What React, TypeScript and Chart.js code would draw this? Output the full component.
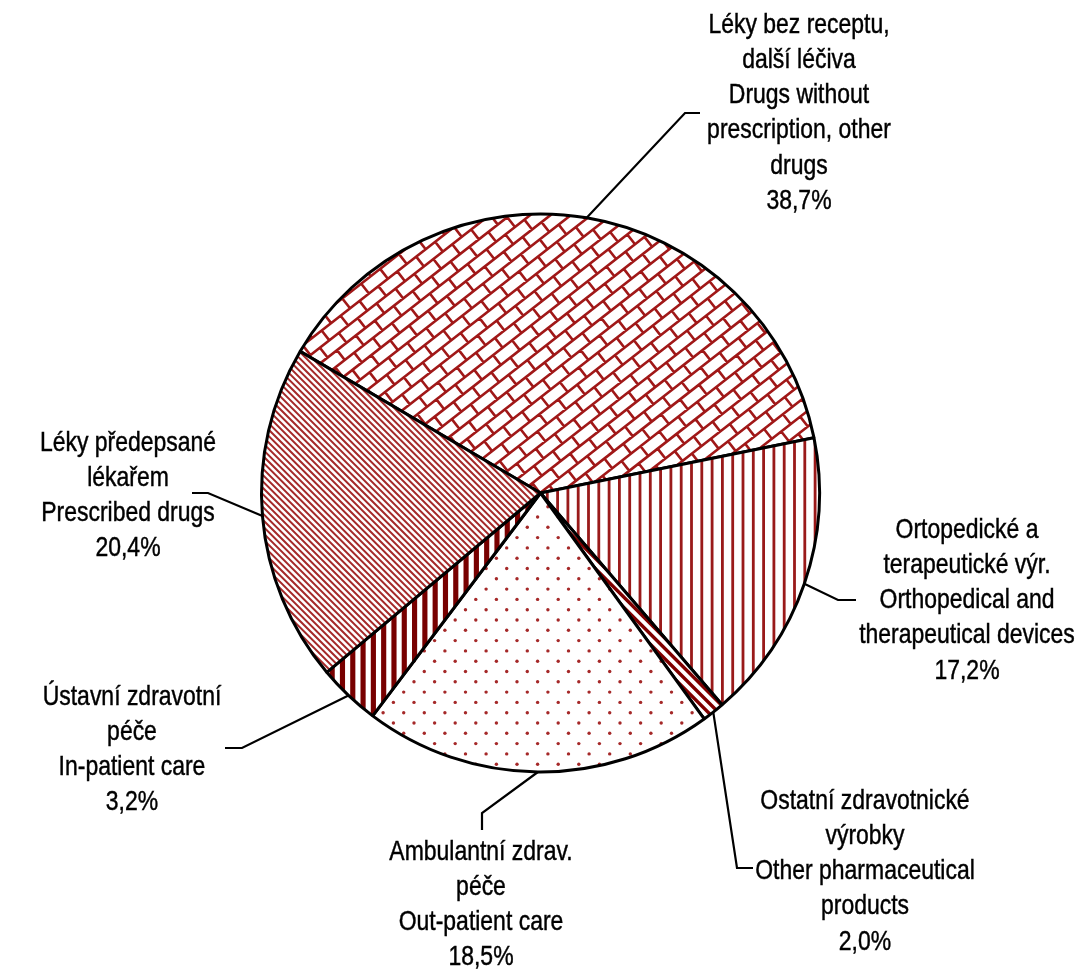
import React, { useEffect, useRef } from "react";
import { Chart, registerables } from "chart.js";

Chart.register(...registerables);

// ---------- data ----------
const categories: string[][] = [
  ["Léky bez receptu,", "další léčiva", "Drugs without", "prescription, other", "drugs"],
  ["Ortopedické a", "terapeutické výr.", "Orthopedical and", "therapeutical devices"],
  ["Ostatní zdravotnické", "výrobky", "Other pharmaceutical", "products"],
  ["Ambulantní zdrav.", "péče", "Out-patient care"],
  ["Ústavní zdravotní", "péče", "In-patient care"],
  ["Léky předepsané", "lékařem", "Prescribed drugs"],
];
// percentages printed in the labels
const labelPercents = ["38,7%", "17,2%", "2,0%", "18,5%", "3,2%", "20,4%"];
// slice sizes as drawn in the picture (% of the circle)
const sliceShares = [38.35, 16.9, 1.3, 20.25, 3.62, 19.58];
const startAngleDeg = -59.5;

// ---------- layout (offsets from pie centre, px) ----------
const labelLayout = [
  { elbow: [144.5, -380], end: [159.5, -380], text: [258.5, -468] },
  { elbow: [297.5, 107], end: [315.5, 107], text: [426.5, 37] },
  { elbow: [196.5, 375], end: [212.5, 375], text: [324.5, 308] },
  { elbow: [-58.5, 320], end: [-58.5, 337], text: [-59.5, 359] },
  { elbow: [-298.5, 255], end: [-315.5, 255], text: [-408.5, 204] },
  { elbow: [-332.5, 0], end: [-348.5, 0], text: [-412.5, -50] },
];
const LINE_H = 35.2;
const FONT_PX = 28;

// ---------- patterns ----------
const W = 1079;
const H = 973;
const PX = 20.6 / 8; // one pattern "bit"

function makePattern(draw: (c: CanvasRenderingContext2D) => void): CanvasPattern {
  const cv = document.createElement("canvas");
  cv.width = W;
  cv.height = H;
  const c = cv.getContext("2d")!;
  c.fillStyle = "#ffffff";
  c.fillRect(0, 0, W, H);
  draw(c);
  return c.createPattern(cv, "no-repeat")!;
}

function brick(c: CanvasRenderingContext2D) {
  const theta = (38 * Math.PI) / 180;
  const d = 12.5; // row spacing
  const L = 24; // brick length
  c.save();
  c.translate(540, 493);
  c.rotate(-theta);
  c.strokeStyle = "#a01818";
  c.lineWidth = 2.6;
  c.beginPath();
  for (let k = -70; k <= 70; k++) {
    const y = k * d;
    c.moveTo(-900, y);
    c.lineTo(900, y);
    const off = (((k % 2) + 2) % 2) * (L / 2);
    for (let x = -900 + off; x <= 900; x += L) {
      c.moveTo(x, y);
      c.lineTo(x, y + d);
    }
  }
  c.stroke();
  c.restore();
}

function backslash(period: number, width: number, color: string) {
  return (c: CanvasRenderingContext2D) => {
    c.strokeStyle = color;
    c.lineWidth = width;
    c.beginPath();
    for (let s = -H - 20; s <= W + 20; s += period) {
      c.moveTo(s, 0);
      c.lineTo(s + H, H);
    }
    c.stroke();
  };
}

function vertical(period: number, width: number, color: string) {
  return (c: CanvasRenderingContext2D) => {
    c.fillStyle = color;
    for (let x = 0; x < W; x += period) {
      c.fillRect(x, 0, width, H);
    }
  };
}

function dots(c: CanvasRenderingContext2D) {
  c.fillStyle = "#a52828";
  const P = 8 * PX;
  for (let x = 0; x < W + P; x += P) {
    for (let y = 0; y < H + P; y += P) {
      c.beginPath();
      c.arc(x + 2, y + 2, 1.7, 0, Math.PI * 2);
      c.fill();
      c.beginPath();
      c.arc(x + 2 + P / 2, y + 2 + P / 2, 1.7, 0, Math.PI * 2);
      c.fill();
    }
  }
}

export default function App() {
  const ref = useRef<HTMLCanvasElement | null>(null);

  useEffect(() => {
    const canvas = ref.current;
    if (!canvas) return;

    const fills = [
      makePattern(brick),
      makePattern(vertical(4 * PX, 2.8, "#9a1a1a")),
      makePattern(backslash(4 * PX, 3.4, "#800000")),
      makePattern(dots),
      makePattern(vertical(4 * PX, 2 * PX, "#780000")),
      makePattern(backslash(6.4, 2.0, "#a52a2a")),
    ];

    // choose narrow font or a squeezed fallback
    const mctx = canvas.getContext("2d")!;
    mctx.font = `${FONT_PX}px "Liberation Sans Narrow", monospace`;
    const w1 = mctx.measureText("therapeutical devices").width;
    mctx.font = `${FONT_PX}px monospace`;
    const w2 = mctx.measureText("therapeutical devices").width;
    const hasNarrow = Math.abs(w1 - w2) > 0.5;

    const labelPlugin = {
      id: "leaderLabels",
      afterDraw(chart: any) {
        const ctx: CanvasRenderingContext2D = chart.ctx;
        const arcs = chart.getDatasetMeta(0).data;
        ctx.save();
        arcs.forEach((arc: any, i: number) => {
          const p = arc.getProps(["x", "y", "startAngle", "endAngle", "outerRadius"], true);
          const mid = (p.startAngle + p.endAngle) / 2;
          const ax = p.x + Math.cos(mid) * p.outerRadius;
          const ay = p.y + Math.sin(mid) * p.outerRadius;
          const L = labelLayout[i];
          ctx.beginPath();
          ctx.moveTo(ax, ay);
          ctx.lineTo(p.x + L.elbow[0], p.y + L.elbow[1]);
          ctx.lineTo(p.x + L.end[0], p.y + L.end[1]);
          ctx.strokeStyle = "#000";
          ctx.lineWidth = 2.2;
          ctx.lineJoin = "miter";
          ctx.stroke();

          const lines = [...categories[i], labelPercents[i]];
          ctx.fillStyle = "#000";
          ctx.strokeStyle = "#000";
          ctx.lineWidth = 0.45;
          ctx.textAlign = "center";
          ctx.textBaseline = "middle";
          lines.forEach((t, k) => {
            const tx = p.x + L.text[0];
            const ty = p.y + L.text[1] + k * LINE_H;
            if (hasNarrow) {
              ctx.font = `${FONT_PX}px "Liberation Sans Narrow"`;
              ctx.fillText(t, tx, ty);
              ctx.strokeText(t, tx, ty);
            } else {
              ctx.save();
              ctx.translate(tx, ty);
              ctx.scale(0.82, 1);
              ctx.font = `${FONT_PX}px "Liberation Sans", Arial, sans-serif`;
              ctx.fillText(t, 0, 0);
              ctx.strokeText(t, 0, 0);
              ctx.restore();
            }
          });
        });
        ctx.restore();
      },
    };

    const chart = new Chart(canvas, {
      type: "pie",
      data: {
        labels: categories.map((c) => c.join(" ")),
        datasets: [
          {
            data: sliceShares,
            backgroundColor: fills as any,
            borderColor: "#000000",
            borderWidth: 3,
          },
        ],
      },
      options: {
        responsive: false,
        animation: false,
        rotation: startAngleDeg,
        devicePixelRatio: 1,
        layout: { padding: { left: 260, right: 258, top: 212.5, bottom: 199.5 } },
        plugins: {
          legend: { display: false },
          tooltip: { enabled: false },
        },
      },
      plugins: [labelPlugin],
    });

    return () => chart.destroy();
  }, []);

  return (
    <div style={{ position: "absolute", left: 0, top: 0, width: W, height: H, background: "#fff" }}>
      <canvas ref={ref} width={W} height={H} style={{ display: "block" }} />
    </div>
  );
}
